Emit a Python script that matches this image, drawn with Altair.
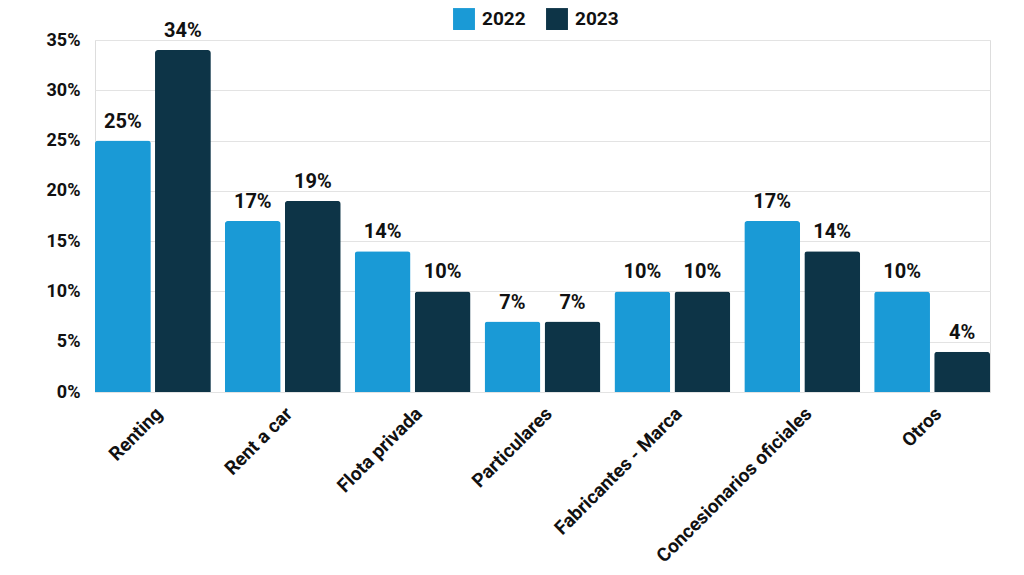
import altair as alt
import pandas as pd

categories = ["Renting", "Rent a car", "Flota privada", "Particulares",
              "Fabricantes - Marca", "Concesionarios oficiales", "Otros"]
values_2022 = [25, 17, 14, 7, 10, 17, 10]
values_2023 = [34, 19, 10, 7, 10, 14, 4]
years = ["2022", "2023"]
colors = ["#1a9ad6", "#0d3447"]

rows = []
for cat, a, b in zip(categories, values_2022, values_2023):
    rows.append({"cat": cat, "year": "2022", "value": a})
    rows.append({"cat": cat, "year": "2023", "value": b})
df = pd.DataFrame(rows)

font = "Roboto"

x_enc = alt.X("cat:N", sort=categories, title=None,
              scale=alt.Scale(paddingInner=0.108, paddingOuter=0),
              axis=alt.Axis(labelAngle=-45, labelFontSize=19, labelFontWeight="bold",
                            labelColor="#111111", labelFont=font, domain=False,
                            ticks=False, labelPadding=12, labelLimit=400))
xoff = alt.XOffset("year:N", scale=alt.Scale(paddingInner=0.07, paddingOuter=0))

base = alt.Chart(df)

bars = base.mark_bar(cornerRadiusTopLeft=3, cornerRadiusTopRight=3).encode(
    x=x_enc,
    xOffset=xoff,
    y=alt.Y("value:Q", title=None,
            scale=alt.Scale(domain=[0, 35], nice=False),
            axis=alt.Axis(values=[0, 5, 10, 15, 20, 25, 30, 35],
                          labelExpr="datum.value + '%'",
                          labelFontSize=18, labelFontWeight="bold",
                          labelColor="#111111", labelFont=font,
                          domain=False, ticks=False, labelPadding=15,
                          gridColor="#e3e3e3", gridWidth=1)),
    color=alt.Color("year:N", scale=alt.Scale(domain=years, range=colors),
                    legend=alt.Legend(title=None, orient="none", direction="horizontal",
                                      legendX=358, legendY=-32,
                                      symbolType="square", symbolSize=480,
                                      symbolStrokeWidth=0, symbolOpacity=1,
                                      labelFontSize=19, labelFontWeight="bold",
                                      labelFont=font, labelColor="#111111",
                                      columnPadding=20, labelOffset=7)),
)

labels = base.mark_text(baseline="bottom", dy=-9, fontSize=20, fontWeight="bold",
                        font=font, color="#111111").transform_calculate(
    lbl="datum.value + '%'"
).encode(
    x=alt.X("cat:N", sort=categories),
    xOffset=xoff,
    y="value:Q",
    text="lbl:N",
)

chart = alt.layer(bars, labels).properties(
    width=895, height=352,
    padding={"left": 38, "top": 0, "right": 5, "bottom": 0},
).configure_view(stroke=None).configure(background="white")

chart.save("out.html", embed_options={"renderer": "svg", "actions": False})
